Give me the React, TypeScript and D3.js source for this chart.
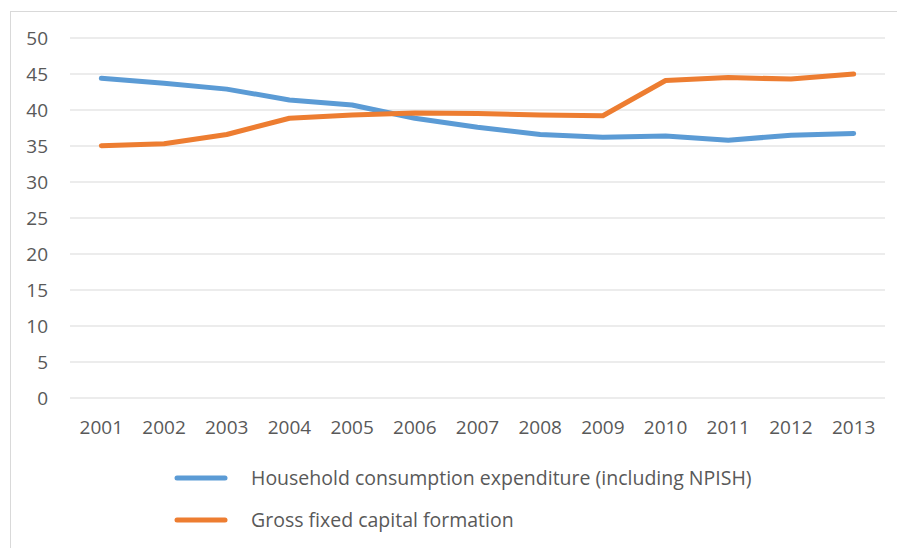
import React from "react";
import * as d3 from "d3";

const years = ["2001","2002","2003","2004","2005","2006","2007","2008","2009","2010","2011","2012","2013"];
const household = [44.4, 43.7, 42.9, 41.4, 40.7, 38.85, 37.6, 36.6, 36.2, 36.4, 35.8, 36.5, 36.75];
const gfcf = [35.05, 35.3, 36.6, 38.85, 39.3, 39.6, 39.5, 39.3, 39.2, 44.1, 44.5, 44.3, 45.0];
const yTicks = [0, 5, 10, 15, 20, 25, 30, 35, 40, 45, 50];
const seriesNames = ["Household consumption expenditure (including NPISH)", "Gross fixed capital formation"];
const colors = ["#5b9bd5", "#ed7d31"];

const W = 897, H = 548;
const font = "'Open Sans', sans-serif";
const fs = 19;
const lfs = 19.5;

export default function App() {
  const x = d3.scaleBand<string>().domain(years).range([70, 885]);
  const y = d3.scaleLinear().domain([0, 50]).range([398, 38]);
  const line = d3.line<number>()
    .x((_, i) => (x(years[i]) as number) + x.bandwidth() / 2)
    .y((d) => y(d));
  const series = [household, gfcf];
  return (
    <svg width={W} height={H} style={{ position: "absolute", left: 0, top: 0, background: "#fff" }}>
      <rect x={10.5} y={11.5} width={1000} height={1000} fill="none" stroke="#d9d9d9" strokeWidth={1} />
      {yTicks.map((t) => (
        <g key={t}>
          <line x1={70} x2={885} y1={y(t)} y2={y(t)} stroke="#d9d9d9" strokeWidth={1} />
          <text x={48} y={y(t)} dy="0.35em" textAnchor="end" fontSize={fs} fill="#595959" fontFamily={font}>{t}</text>
        </g>
      ))}
      {years.map((yr) => (
        <text key={yr} x={(x(yr) as number) + x.bandwidth() / 2} y={434} textAnchor="middle" fontSize={fs} fill="#595959" fontFamily={font}>{yr}</text>
      ))}
      {series.map((s, i) => (
        <path key={i} d={line(s) || ""} fill="none" stroke={colors[i]} strokeWidth={5} strokeLinecap="round" strokeLinejoin="round" />
      ))}
      {seriesNames.map((n, i) => {
        const ly = 478 + i * 42;
        return (
          <g key={n}>
            <line x1={177} x2={225} y1={ly} y2={ly} stroke={colors[i]} strokeWidth={5} strokeLinecap="round" />
            <text x={251} y={ly} dy="0.35em" fontSize={lfs} fill="#595959" fontFamily={font}>{n}</text>
          </g>
        );
      })}
    </svg>
  );
}
